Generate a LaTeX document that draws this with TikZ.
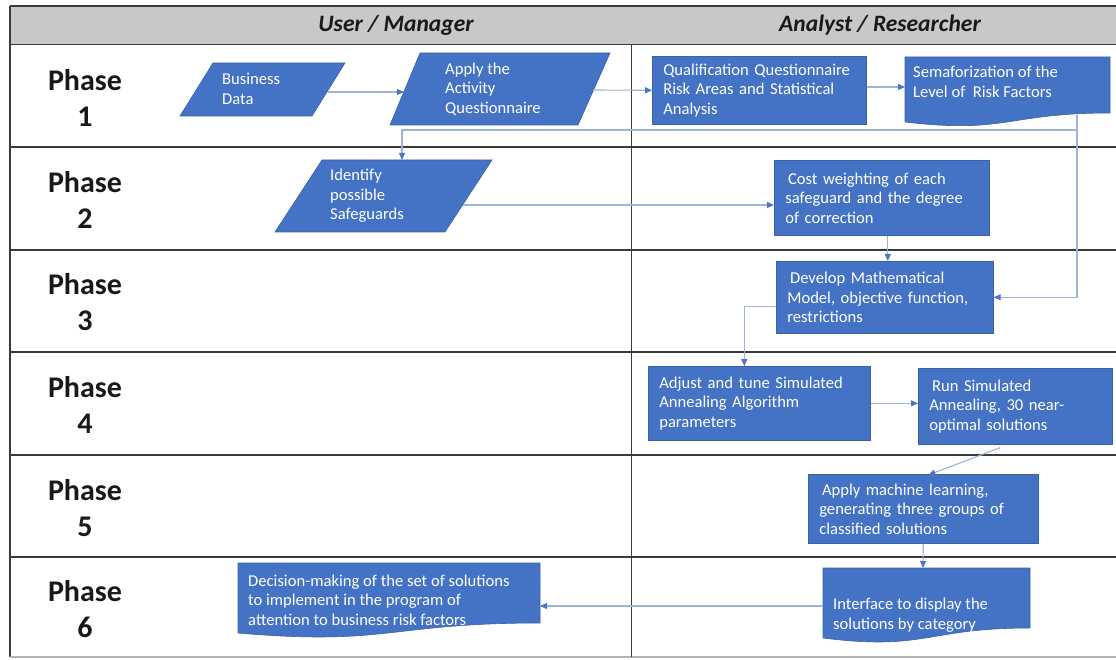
\documentclass[tikz,border=0pt]{standalone}
\usepackage{fontspec}
\setmainfont{Carlito}
\usetikzlibrary{arrows.meta,calc}
\definecolor{boxblue}{HTML}{4472C4}
\definecolor{boxedge}{HTML}{3A62AA}
\definecolor{connc}{HTML}{9DB3D9}
\definecolor{tipblue}{HTML}{4A76C2}
\definecolor{hdrgray}{HTML}{C8C8C8}
\definecolor{lane}{HTML}{3A3A3A}
\begin{document}
\begin{tikzpicture}[x=1pt,y=-1pt,
  fbox/.style={fill=boxblue, draw=boxedge, line width=0.6pt, text=white,
    font=\fontsize{16.6}{19.5}\selectfont, align=left, anchor=north west,
    inner xsep=11pt, inner ysep=0pt},
  shapefill/.style={fill=boxblue, draw=boxedge, line width=0.6pt},
  txt/.style={text=white, font=\fontsize{16.6}{19.5}\selectfont, align=left, inner sep=0pt},
  conn/.style={draw=connc, line width=1.1pt, -{Triangle[length=7pt,width=6pt,color=tipblue]}},
  phase/.style={font=\bfseries\fontsize{30}{36}\selectfont, align=center, text=black!90},
  hdr/.style={font=\bfseries\itshape\fontsize{23.5}{26}\selectfont, text=black!90}]
\useasboundingbox (0,0) rectangle (1116,660);
% lanes
\fill[hdrgray] (10,6) rectangle (1116,45);
\draw[lane, line width=1.2pt] (10,6) -- (1116,6);
\draw[lane, line width=1pt] (10,45) -- (1116,45);
\draw[lane, line width=1.5pt] (10,6) -- (10,657);
\foreach \y in {147,250,352,455,557} \draw[lane, line width=1.8pt] (10,\y) -- (1116,\y);
\draw[black!30, line width=1.5pt] (10,657) -- (1116,657);
\draw[lane, line width=1pt] (631,45) -- (631,657);
\node[hdr] (hu) at (396,25) {User / Manager};
\node[hdr] (ha) at (880,25) {Analyst / Researcher};
\foreach \n/\y in {1/98,2/200,3/302,4/405,5/508,6/609}
  \node[phase] (p\n) at (85,\y) {Phase\\\n};
% parallelograms
\path[shapefill] (213,63) -- (345,63) -- (312,116) -- (180,116) -- cycle;
\node[txt, anchor=west] (bd) at (222,89) {Business\\Data};
\path[shapefill] (420,53) -- (610,53) -- (578,125) -- (390,125) -- cycle;
\node[txt, anchor=west] (apply) at (445,89) {Apply the\\Activity\\Questionnaire};
\path[shapefill] (322,160) -- (492,160) -- (445,232) -- (275,232) -- cycle;
\node[txt, anchor=west] (ident) at (330,196) {Identify\\possible\\Safeguards};
% document shapes
\path[shapefill] (905,57) -- (1110,57) -- (1110,113) .. controls (1007,113) and (1007,134) .. (905,122) -- cycle;
\node[txt, anchor=west] (semaf) at (913,82) {Semaforization of the\\Level of~ Risk Factors};
\path[shapefill] (823,568) -- (1030,568) -- (1030,628) .. controls (926,628) and (926,651) .. (823,638) -- cycle;
\node[txt, anchor=west] (iface) at (833,615) {Interface to display the\\solutions by category};
\path[shapefill] (238,563) -- (540,563) -- (540,623) .. controls (389,623) and (389,646) .. (238,633) -- cycle;
\node[txt, anchor=west] (dec) at (248,600) {Decision-making of the set of solutions\\to implement in the program of\\attention to business risk factors};
% boxes
\node[fbox, minimum width=214pt, minimum height=68pt, text width=192pt] (qual) at (652,56)
  {Qualification Questionnaire\\Risk Areas and Statistical\\Analysis};
\node[fbox, minimum width=215pt, minimum height=75pt, text width=193pt] (cost) at (774,160)
  {\,Cost weighting of each\\safeguard and the degree\\of correction};
\node[fbox, minimum width=217pt, minimum height=72pt, text width=195pt] (dev) at (776,261)
  {\,Develop Mathematical\\Model, objective function,\\restrictions};
\node[fbox, minimum width=222pt, minimum height=74pt, text width=200pt] (adj) at (648,366)
  {Adjust and tune Simulated\\Annealing Algorithm\\parameters};
\node[fbox, minimum width=194pt, minimum height=76pt, text width=172pt] (run) at (918,368)
  {\,Run Simulated\\Annealing, 30 near-\\optimal solutions};
\node[fbox, minimum width=230pt, minimum height=69pt, text width=208pt] (ml) at (808,474)
  {\,Apply machine learning,\\generating three groups of\\classified solutions};
% attachment points on drawn shapes
\coordinate (bdR) at (328,92);
\coordinate (apL) at (404,92);
\coordinate (apR) at (593,90);
\coordinate (seL) at (905,87);
\coordinate (seB) at (1077,115);
\coordinate (br) at (1077,130);
\coordinate (idT) at (402,160);
\coordinate (idR) at (463,205);
\coordinate (ifT) at (923,568);
\coordinate (ifL) at (823,606);
\coordinate (deR) at (540,606);
% connectors
\draw[conn] (bdR) -- (apL);
\draw[conn] (apR) -- (qual.west);
\draw[conn] (qual.east |- seL) -- (seL);
\draw[conn] (seB) |- (dev.east);
\draw[conn] (br) -| (idT);
\draw[conn] (idR) -- (idR -| cost.west);
\draw[conn] ([xshift=6pt]cost.south) -- ([xshift=6pt]cost.south |- dev.north);
\draw[conn] ([yshift=-9pt]dev.west) -| ([xshift=-15pt]adj.north);
\draw[conn] (adj.east) -- (adj.east -| run.west);
\draw[conn] ([xshift=-15pt,yshift=-3pt]run.south) -- ([xshift=5pt,yshift=-1pt]ml.north);
\draw[conn] (ml.south) -- (ifT);
\draw[conn] (ifL) -- (deR);
\end{tikzpicture}
\end{document}
